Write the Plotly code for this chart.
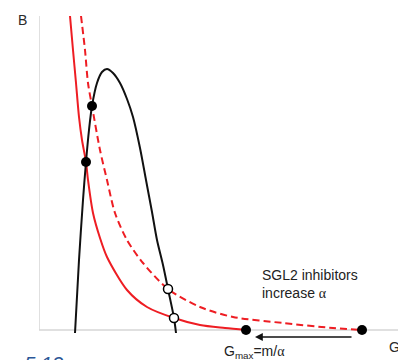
import plotly.graph_objects as go

# Beta-cell (black) curve (G, B)
black_G = [3.6, 4.0, 4.4, 4.7, 5.0, 5.3, 5.8, 6.3, 6.8, 7.4, 8.1, 8.8, 9.4, 10.1, 10.7, 11.3, 11.8, 12.4, 12.9, 13.5, 13.7]
black_B = [-0.3, 7.0, 13.0, 16.8, 20.0, 22.4, 24.7, 25.8, 26.1, 25.7, 24.7, 23.1, 21.3, 18.2, 15.0, 11.8, 9.0, 6.5, 4.1, 1.2, -0.3]

# Glucose nullcline, solid red (before)
red_G = [3.1, 3.4, 3.7, 4.0, 4.3, 4.7, 4.9, 5.4, 6.1, 6.8, 8.8, 10.8, 13.5, 16.1, 18.6, 20.7]
red_B = [31.4, 28.0, 24.7, 21.3, 19.0, 16.8, 15.0, 11.7, 9.2, 7.3, 4.0, 2.3, 1.2, 0.5, 0.2, 0.0]

# Glucose nullcline, dashed red (after)
dash_G = [4.2, 4.6, 4.9, 5.3, 6.1, 6.8, 7.6, 8.8, 10.4, 12.9, 16.1, 19.4, 24.4, 29.4, 32.3]
dash_B = [31.4, 28.0, 24.7, 22.4, 18.0, 15.0, 11.7, 9.0, 6.7, 4.1, 2.3, 1.3, 0.7, 0.2, 0.0]

# Fixed points
filled_G = [4.7, 5.3, 20.7, 32.3]
filled_B = [16.8, 22.4, 0.0, 0.0]
open_G = [12.9, 13.5]
open_B = [4.1, 1.2]

RED = "#ee1d23"
FONT = "Liberation Sans, Arial, sans-serif"
ALPHA = "<span style=\"font-family:'Liberation Serif'\">α</span>"

fig = go.Figure()
fig.add_trace(go.Scatter(x=red_G, y=red_B, mode="lines",
                         line=dict(color=RED, width=2, shape="spline", smoothing=0.8)))
fig.add_trace(go.Scatter(x=dash_G, y=dash_B, mode="lines",
                         line=dict(color=RED, width=2, dash="7px,4px", shape="spline", smoothing=0.8)))
fig.add_trace(go.Scatter(x=black_G, y=black_B, mode="lines",
                         line=dict(color="#111111", width=2, shape="spline", smoothing=0.8)))
fig.add_trace(go.Scatter(x=filled_G, y=filled_B, mode="markers", cliponaxis=False,
                         marker=dict(color="#000000", size=10)))
fig.add_trace(go.Scatter(x=open_G, y=open_B, mode="markers", cliponaxis=False,
                         marker=dict(color="white", size=9, line=dict(color="#000000", width=1.5))))

# axis lines
fig.add_shape(type="line", x0=0, x1=35.9, y0=0, y1=0, line=dict(color="#d6d6d6", width=1.5), layer="below")
fig.add_shape(type="line", x0=0, x1=0, y0=0, y1=31.4, line=dict(color="#d6d6d6", width=1.5), layer="below")

# annotations in paper coords (plot area: left 39px, width 359px; bottom 334px, height 318px)
ann = [
    dict(x=-0.0446, y=0.987, xanchor="center", text="B", size=14, color="#2a2a2a"),
    dict(x=0.989, y=-0.041, xanchor="center", text="G", size=14, color="#2a2a2a"),
    dict(x=0.5097, y=-0.058, xanchor="left", text="G<sub>max</sub>=m/" + ALPHA, size=14, color="#222222"),
    dict(x=0.0724, y=-0.094, xanchor="right", text="<i>Figure 5.13</i>", size=20, color="#2b5797"),
]
for a in ann:
    fig.add_annotation(xref="paper", yref="paper", showarrow=False, yanchor="middle",
                       x=a["x"], y=a["y"], xanchor=a["xanchor"], text=a["text"],
                       font=dict(family=FONT, size=a["size"], color=a["color"]))

fig.add_annotation(xref="x", yref="y", x=22.1, y=4.65, xanchor="left", yanchor="middle", align="left",
                   showarrow=False, text="SGL2 inhibitors<br>increase " + ALPHA,
                   font=dict(family=FONT, size=14, color="#222222"))

fig.add_annotation(x=0.6017, y=-0.0094, xref="paper", yref="paper", axref="pixel", ayref="pixel",
                   ax=98, ay=0, text="", showarrow=True, arrowhead=2, arrowsize=1.2, arrowwidth=1.3,
                   arrowcolor="#111111", standoff=0, startstandoff=0)

fig.update_layout(
    width=398, height=360,
    margin=dict(l=39, r=0, t=16, b=26),
    paper_bgcolor="white", plot_bgcolor="white",
    showlegend=False,
    xaxis=dict(range=[0, 35.9], visible=False, fixedrange=True),
    yaxis=dict(range=[-0.4, 31.4], visible=False, fixedrange=True),
)
fig.write_html("out.html")
